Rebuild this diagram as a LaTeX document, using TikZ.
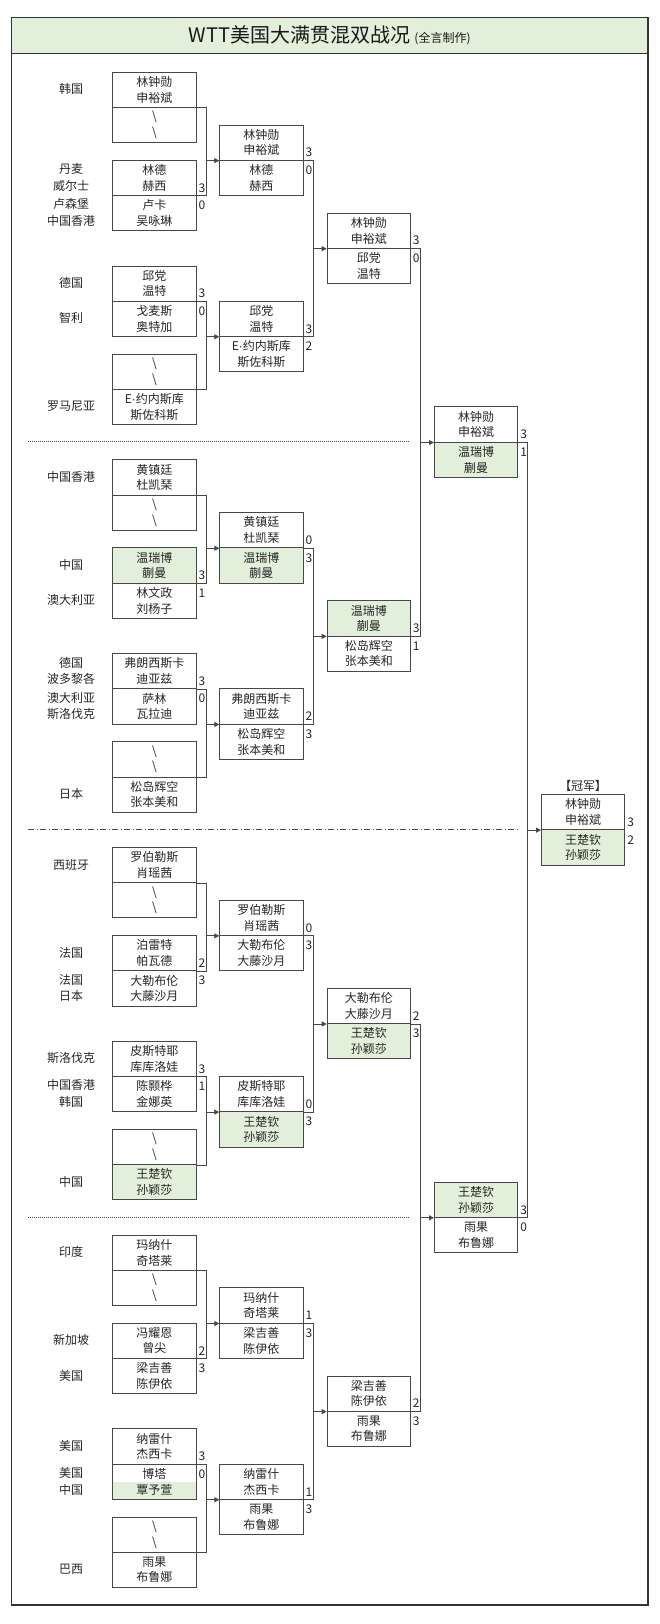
\documentclass[tikz,border=0pt]{standalone}
\usepackage{fontspec}
\newfontfamily\cjk{Noto Sans CJK SC}
\newfontfamily\cjkp[RawFeature=+palt]{Noto Sans CJK SC}
\newfontfamily\latf{Liberation Sans}
\usetikzlibrary{arrows.meta}
\definecolor{lg}{HTML}{E2EFDA}
\def\UU{17.62}
\def\YY{71.7}
\newcommand{\byee}{\textbackslash\\\textbackslash}
\newcommand{\ejn}{E{\latf ·}约内斯库}
\tikzset{
  cell/.style={draw=black!72, line width=0.8pt, minimum width=83.4pt, minimum height=35.24pt,
    inner sep=0pt, align=center, font=\cjk\fontsize{12}{15.6}\selectfont, text=black!85},
  wf/.style={fill=white},
  gf/.style={fill=lg},
  hg/.style={path picture={\fill[lg] (path picture bounding box.west) rectangle (path picture bounding box.south east);}},
  score/.style={inner sep=0pt, font=\cjk\fontsize{12}{12}\selectfont, text=black!85},
  lbl/.style={inner sep=0pt, align=center, font=\cjk\fontsize{12}{16.5}\selectfont, text=black!85},
  conn/.style={draw=black!72, line width=0.8pt},
  arr/.style={draw=black!72, line width=0.8pt, -{Triangle[length=5pt,width=5pt]}},
  sepdot/.style={draw=black!70, line width=0.6pt, dash pattern=on 0.8pt off 1.2pt},
  sepdd/.style={draw=black!70, line width=0.6pt, dash pattern=on 6pt off 2.5pt on 1pt off 2.5pt},
}
\newcommand{\mtch}[7]{%
  \node[cell,#4,anchor=north west] (#1-t) at (#2,{\YY+(#3)*\UU}) {#5};
  \node[cell,#6,anchor=north west] (#1-b) at (#2,{\YY+(#3+2)*\UU}) {#7};
}
\newcommand{\scr}[3]{%
  \node[score] (#1-s1) at ([xshift=5.4pt,yshift=8pt]#1-t.south east) {#2};
  \node[score] (#1-s2) at ([xshift=5.4pt,yshift=-9.5pt]#1-t.south east) {#3};
}
\newcommand{\brk}[4]{%
  \draw[conn] (#1-t.south east) -- ++(9.6,0) coordinate (#4) |- (#2-t.south east);
  \draw[arr] (#4 |- #3-t.south west) -- (#3-t.south west);
}
\newcommand{\lab}[3]{\node[lbl] (#1) at (71,{\YY+(#2)*\UU}) {#3};}
\begin{document}
\begin{tikzpicture}[x=1pt,y=-1pt]
\useasboundingbox (0,0) rectangle (660,1624);
% frame and title
\draw[black!80, line width=1.4pt] (11.5,17.5) rectangle (648,1605);
\node[draw=black!80, line width=1.2pt, fill=lg, minimum width=636.5pt, minimum height=36pt, inner sep=0pt,
  text=black!90] (title) at (329.75,35.5)
  {\cjk\fontsize{20}{20}\selectfont WTT美国大满贯混双战况\hspace{4pt}{\fontsize{12}{12}\selectfont (全言制作)}};
% separators
\draw[sepdot] (28,{\YY+21*\UU}) -- (410,{\YY+21*\UU});
\draw[sepdd] (28,{\YY+43*\UU}) -- (518,{\YY+43*\UU});
\draw[sepdot] (28,{\YY+65*\UU}) -- (410,{\YY+65*\UU});
% ---------- Q1
\mtch{q1b1}{112.3}{0}{wf}{林钟勋\\申裕斌}{wf}{\byee}
\mtch{q1b2}{112.3}{5}{wf}{林德\\赫西}{wf}{卢卡\\吴咏琳} \scr{q1b2}{3}{0}
\mtch{q1b3}{112.3}{11}{wf}{邱党\\温特}{wf}{戈麦斯\\奥特加} \scr{q1b3}{3}{0}
\mtch{q1b4}{112.3}{16}{wf}{\byee}{wf}{\ejn\\斯佐科斯}
\mtch{q1c1}{219.3}{3}{wf}{林钟勋\\申裕斌}{wf}{林德\\赫西} \scr{q1c1}{3}{0}
\mtch{q1c2}{219.3}{13}{wf}{邱党\\温特}{wf}{\ejn\\斯佐科斯} \scr{q1c2}{3}{2}
\mtch{q1d}{326.7}{8}{wf}{林钟勋\\申裕斌}{wf}{邱党\\温特} \scr{q1d}{3}{0}
\lab{q1l1}{1}{韩国}
\lab{q1l2}{6}{丹麦\\威尔士}
\lab{q1l3}{8}{卢森堡\\中国香港}
\lab{q1l4}{12}{德国}
\lab{q1l5}{14}{智利}
\lab{q1l6}{19}{罗马尼亚}
% ---------- Q2
\mtch{q2b1}{112.3}{22}{wf}{黄镇廷\\杜凯琹}{wf}{\byee}
\mtch{q2b2}{112.3}{27}{gf}{温瑞博\\蒯曼}{wf}{林文政\\刘杨子} \scr{q2b2}{3}{1}
\mtch{q2b3}{112.3}{33}{wf}{弗朗西斯卡\\迪亚兹}{wf}{萨林\\瓦拉迪} \scr{q2b3}{3}{0}
\mtch{q2b4}{112.3}{38}{wf}{\byee}{wf}{松岛辉空\\张本美和}
\mtch{q2c1}{219.3}{25}{wf}{黄镇廷\\杜凯琹}{gf}{温瑞博\\蒯曼} \scr{q2c1}{0}{3}
\mtch{q2c2}{219.3}{35}{wf}{弗朗西斯卡\\迪亚兹}{wf}{松岛辉空\\张本美和} \scr{q2c2}{2}{3}
\mtch{q2d}{326.7}{30}{gf}{温瑞博\\蒯曼}{wf}{松岛辉空\\张本美和} \scr{q2d}{3}{1}
\lab{q2l1}{23}{中国香港}
\lab{q2l2}{28}{中国}
\lab{q2l3}{30}{澳大利亚}
\lab{q2l4}{34}{德国\\波多黎各}
\lab{q2l5}{36}{澳大利亚\\斯洛伐克}
\lab{q2l6}{41}{日本}
% ---------- Q3
\mtch{q3b1}{112.3}{44}{wf}{罗伯勒斯\\肖瑶茜}{wf}{\byee}
\mtch{q3b2}{112.3}{49}{wf}{泊雷特\\帕瓦德}{wf}{大勒布伦\\大藤沙月} \scr{q3b2}{2}{3}
\mtch{q3b3}{112.3}{55}{wf}{皮斯特耶\\库库洛娃}{wf}{陈颢桦\\金娜英} \scr{q3b3}{3}{1}
\mtch{q3b4}{112.3}{60}{wf}{\byee}{gf}{王楚钦\\孙颖莎}
\mtch{q3c1}{219.3}{47}{wf}{罗伯勒斯\\肖瑶茜}{wf}{大勒布伦\\大藤沙月} \scr{q3c1}{0}{3}
\mtch{q3c2}{219.3}{57}{wf}{皮斯特耶\\库库洛娃}{gf}{王楚钦\\孙颖莎} \scr{q3c2}{0}{3}
\mtch{q3d}{326.7}{52}{wf}{大勒布伦\\大藤沙月}{gf}{王楚钦\\孙颖莎} \scr{q3d}{2}{3}
\lab{q3l1}{45}{西班牙}
\lab{q3l2}{50}{法国}
\lab{q3l3}{52}{法国\\日本}
\lab{q3l4}{56}{斯洛伐克}
\lab{q3l5}{58}{中国香港\\韩国}
\lab{q3l6}{63}{中国}
% ---------- Q4
\mtch{q4b1}{112.3}{66}{wf}{玛纳什\\奇塔莱}{wf}{\byee}
\mtch{q4b2}{112.3}{71}{wf}{冯耀恩\\曾尖}{wf}{梁吉善\\陈伊依} \scr{q4b2}{2}{3}
\mtch{q4b3}{112.3}{77}{wf}{纳雷什\\杰西卡}{hg}{博塔\\覃予萱} \scr{q4b3}{3}{0}
\mtch{q4b4}{112.3}{82}{wf}{\byee}{wf}{雨果\\布鲁娜}
\mtch{q4c1}{219.3}{69}{wf}{玛纳什\\奇塔莱}{wf}{梁吉善\\陈伊依} \scr{q4c1}{1}{3}
\mtch{q4c2}{219.3}{79}{wf}{纳雷什\\杰西卡}{wf}{雨果\\布鲁娜} \scr{q4c2}{1}{3}
\mtch{q4d}{326.7}{74}{wf}{梁吉善\\陈伊依}{wf}{雨果\\布鲁娜} \scr{q4d}{2}{3}
\lab{q4l1}{67}{印度}
\lab{q4l2}{72}{新加坡}
\lab{q4l3}{74}{美国}
\lab{q4l4}{78}{美国}
\lab{q4l5}{80}{美国\\中国}
\lab{q4l6}{85}{巴西}
% ---------- semis and final
\mtch{s1}{434}{19}{wf}{林钟勋\\申裕斌}{gf}{温瑞博\\蒯曼} \scr{s1}{3}{1}
\mtch{s2}{434}{63}{gf}{王楚钦\\孙颖莎}{wf}{雨果\\布鲁娜} \scr{s2}{3}{0}
\mtch{fin}{541}{41}{wf}{林钟勋\\申裕斌}{gf}{王楚钦\\孙颖莎} \scr{fin}{3}{2}
\node[lbl, font=\cjkp\fontsize{12}{12}\selectfont] (champ) at ([yshift=8pt]fin-t.north) {【冠军】};
% ---------- connectors
\brk{q1b1}{q1b2}{q1c1}{q1v1}
\brk{q1b3}{q1b4}{q1c2}{q1v2}
\brk{q1c1}{q1c2}{q1d}{q1v3}
\brk{q2b1}{q2b2}{q2c1}{q2v1}
\brk{q2b3}{q2b4}{q2c2}{q2v2}
\brk{q2c1}{q2c2}{q2d}{q2v3}
\brk{q3b1}{q3b2}{q3c1}{q3v1}
\brk{q3b3}{q3b4}{q3c2}{q3v2}
\brk{q3c1}{q3c2}{q3d}{q3v3}
\brk{q4b1}{q4b2}{q4c1}{q4v1}
\brk{q4b3}{q4b4}{q4c2}{q4v2}
\brk{q4c1}{q4c2}{q4d}{q4v3}
\brk{q1d}{q2d}{s1}{sv1}
\brk{q3d}{q4d}{s2}{sv2}
\brk{s1}{s2}{fin}{fv}
\end{tikzpicture}
\end{document}
